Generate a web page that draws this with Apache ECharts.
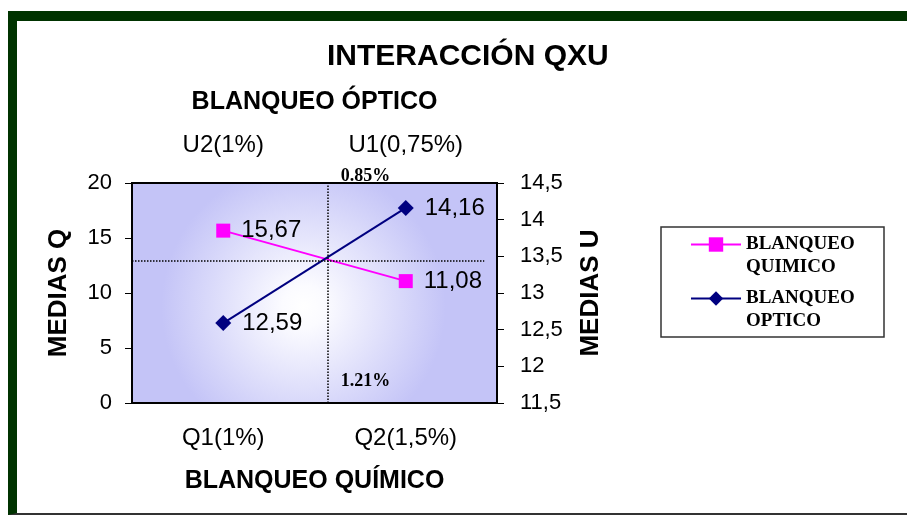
<!DOCTYPE html>
<html>
<head>
<meta charset="utf-8">
<script src="https://cdn.jsdelivr.net/npm/echarts@6/dist/echarts.min.js"></script>
<style>
html, body { margin: 0; padding: 0; background: #fff; }
#frame {
    position: absolute; left: 8px; top: 11px; width: 899px; height: 504px;
    box-sizing: border-box;
    border-top: 10px solid #003300;
    border-left: 9px solid #003300;
    border-bottom: 2px solid #333;
}
#chart { position: absolute; left: 0; top: 0; width: 907px; height: 516px; }
</style>
</head>
<body>
<div id="frame"></div>
<div id="chart"></div>
<script>
var quimicoCategories = ['Q1(1%)', 'Q2(1,5%)'];
var opticoCategories = ['U2(1%)', 'U1(0,75%)'];
var quimicoValues = [15.67, 11.08];
var opticoValues = [12.59, 14.16];
var seriesNames = ['BLANQUEO QUIMICO', 'BLANQUEO OPTICO'];

// dotted guides that cross where the two lines meet
var crossQ = 12.95;   // on the MEDIAS Q scale
var crossX = 1.07;    // between the two categories (0..2)
var noteTexts = ['0.85%', '1.21%'];
var noteX = [1.28, 1.28];
var noteY = [20, 2.0];

var sans = 'Liberation Sans, Arial, sans-serif';
var serif = 'Liberation Serif, Times New Roman, serif';

var chart = echarts.init(document.getElementById('chart'));

function commaLabel(p) {
    return String(p.value).replace('.', ',');
}

var option = {
    animation: false,
    title: {
        text: 'INTERACCIÓN QXU',
        left: 322,
        top: 37,
        textStyle: { fontFamily: sans, fontSize: 30, fontWeight: 'bold', color: '#000' }
    },
    legend: {
        data: seriesNames,
        orient: 'vertical',
        left: 690,
        top: 210,
        padding: 0,
        itemWidth: 50,
        itemHeight: 18,
        itemGap: -15,
        // blank first line keeps the symbol level with the first word
        formatter: function (name) {
            return '\n' + name.replace(' ', '\n');
        },
        textStyle: {
            fontFamily: serif, fontSize: 19, fontWeight: 'bold', color: '#000',
            lineHeight: 23
        }
    },
    graphic: [{
        type: 'rect',
        shape: { x: 661, y: 227, width: 223, height: 110 },
        style: { fill: 'none', stroke: '#333', lineWidth: 1.5 }
    }],
    grid: {
        left: 132,
        right: 410,
        top: 183,
        height: 220,
        show: true,
        borderColor: '#000',
        borderWidth: 2,
        backgroundColor: {
            type: 'radial', x: 0.47, y: 0.56, r: 0.64,
            colorStops: [
                { offset: 0, color: '#ffffff' },
                { offset: 0.15, color: '#fbfbff' },
                { offset: 1, color: '#c4c4f7' }
            ]
        }
    },
    xAxis: [
        {
            type: 'category',
            position: 'bottom',
            data: quimicoCategories,
            axisLine: { lineStyle: { color: '#000', width: 2 } },
            axisTick: { length: 7, lineStyle: { color: '#000' } },
            axisLabel: { fontFamily: sans, fontSize: 24, color: '#000', margin: 23 },
            name: 'BLANQUEO QUÍMICO',
            nameLocation: 'middle',
            nameGap: 66,
            nameTextStyle: { fontFamily: sans, fontSize: 25, fontWeight: 'bold', color: '#000' }
        },
        {
            type: 'category',
            position: 'top',
            data: opticoCategories,
            axisLine: { lineStyle: { color: '#000', width: 2 } },
            axisTick: { length: 7, lineStyle: { color: '#000' } },
            axisLabel: { fontFamily: sans, fontSize: 24, color: '#000', margin: 26 },
            name: 'BLANQUEO ÓPTICO',
            nameLocation: 'middle',
            nameGap: 68,
            nameTextStyle: { fontFamily: sans, fontSize: 25, fontWeight: 'bold', color: '#000' }
        },
        {
            type: 'value', min: 0, max: 2, show: false
        }
    ],
    yAxis: [
        {
            type: 'value',
            position: 'left',
            min: 0, max: 20, interval: 5,
            splitLine: { show: false },
            axisLine: { show: true, lineStyle: { color: '#000', width: 2 } },
            axisTick: { show: true, length: 7, lineStyle: { color: '#000' } },
            axisLabel: { fontFamily: sans, fontSize: 22, color: '#000', margin: 20 },
            name: 'MEDIAS Q',
            nameLocation: 'middle',
            nameGap: 60,
            nameRotate: 90,
            nameTextStyle: { fontFamily: sans, fontSize: 26, fontWeight: 'bold', color: '#000' }
        },
        {
            type: 'value',
            position: 'right',
            min: 11.5, max: 14.5, interval: 0.5,
            splitLine: { show: false },
            axisLine: { show: true, lineStyle: { color: '#000', width: 2 } },
            axisTick: { show: true, length: 7, lineStyle: { color: '#000' } },
            axisLabel: {
                fontFamily: sans, fontSize: 22, color: '#000', margin: 23,
                formatter: function (v) { return String(v).replace('.', ','); }
            },
            name: 'MEDIAS U',
            nameLocation: 'middle',
            nameGap: 81,
            nameRotate: 90,
            nameTextStyle: { fontFamily: sans, fontSize: 26, fontWeight: 'bold', color: '#000' }
        }
    ],
    series: [
        {
            name: seriesNames[0],
            type: 'line',
            xAxisIndex: 0,
            yAxisIndex: 0,
            data: quimicoValues,
            symbol: 'rect',
            symbolSize: 14,
            itemStyle: { color: '#ff00ff' },
            lineStyle: { color: '#ff00ff', width: 2 },
            label: {
                show: true, position: 'right', distance: 11,
                fontFamily: sans, fontSize: 24, color: '#000',
                formatter: commaLabel
            },
            z: 3
        },
        {
            name: seriesNames[1],
            type: 'line',
            xAxisIndex: 1,
            yAxisIndex: 1,
            data: opticoValues,
            symbol: 'diamond',
            symbolSize: 16,
            itemStyle: { color: '#000080' },
            lineStyle: { color: '#000080', width: 2 },
            label: {
                show: true, position: 'right', distance: 11,
                fontFamily: sans, fontSize: 24, color: '#000',
                formatter: commaLabel
            },
            z: 3
        },
        {
            // guides and notes
            type: 'line',
            xAxisIndex: 2,
            yAxisIndex: 0,
            data: [],
            silent: true,
            markLine: {
                symbol: 'none',
                silent: true,
                label: { show: false },
                lineStyle: { type: 'dotted', color: '#000', width: 1.5 },
                data: [
                    [{ coord: [0, crossQ] }, { coord: [1.93, crossQ] }],
                    { xAxis: crossX }
                ]
            },
            markPoint: {
                symbol: 'circle',
                symbolSize: 1,
                itemStyle: { color: 'rgba(0,0,0,0)' },
                label: {
                    show: true, position: 'inside', formatter: '{b}',
                    fontFamily: serif, fontSize: 18, fontWeight: 'bold', color: '#000'
                },
                data: noteTexts.map(function (t, i) {
                    return { name: t, coord: [noteX[i], noteY[i]], label: { offset: [0, i === 0 ? -7 : 0] } };
                })
            }
        }
    ]
};

chart.setOption(option);
</script>
</body>
</html>
